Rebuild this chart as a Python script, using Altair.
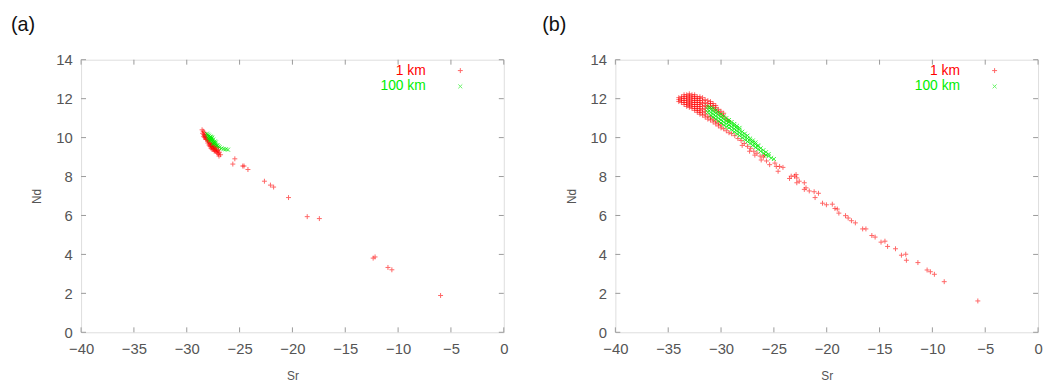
import altair as alt
import pandas as pd

# ---------------- data ----------------
x_ticks = [-40, -35, -30, -25, -20, -15, -10, -5, 0]
y_ticks = [0, 2, 4, 6, 8, 10, 12, 14]
series_names = ["1 km", "100 km"]
panel_labels = ["(a)", "(b)"]

# ---- panel (a), 1 km ----
a_red_x = [-28.55, -28.45, -28.5, -28.4, -28.35, -28.3, -28.25, -28.2, -28.15, -28.1,
           -28.05, -28.0, -27.95, -27.9, -27.85, -27.8, -27.75, -27.7, -27.65, -27.6,
           -27.55, -27.5, -27.45, -27.4, -27.35, -27.3, -27.25, -27.2, -27.15, -27.1,
           -27.8, -27.6, -28.2, -28.4, -27.4, -27.0, -26.9, -27.5, -27.3, -27.7,
           -26.8, -27.05, -28.3, -28.0, -27.9, -27.6, -27.45, -27.2, -27.0, -26.95,
           -25.45, -25.64, -24.70, -24.58, -24.21, -22.65, -22.08, -21.78, -20.37,
           -18.60, -17.45, -12.36, -12.18, -10.96, -10.59, -5.98]
a_red_y = [10.40, 10.33, 10.22, 10.15, 10.27, 10.10, 10.05, 10.16, 9.95, 10.0,
           9.90, 9.85, 9.80, 9.75, 9.86, 9.70, 9.60, 9.66, 9.55, 9.50,
           9.62, 9.45, 9.40, 9.52, 9.35, 9.46, 9.30, 9.36, 9.25, 9.20,
           9.55, 9.66, 9.90, 10.05, 9.30, 9.15, 9.25, 9.70, 9.56, 9.45,
           9.12, 9.32, 10.0, 9.72, 9.62, 9.40, 9.55, 9.48, 9.40, 9.05,
           8.91, 8.64, 8.54, 8.54, 8.36, 7.76, 7.56, 7.46, 6.92,
           5.94, 5.84, 3.81, 3.87, 3.33, 3.21, 1.89]

# ---- panel (a), 100 km ----
a_green_x = [-28.1, -28.0, -27.95, -27.9, -27.85, -27.8, -27.75, -27.7, -27.65, -27.6,
             -27.55, -27.5, -27.45, -27.4, -27.35, -27.3, -27.2, -27.1, -27.0, -26.9,
             -26.7, -26.5, -26.3, -26.1, -27.6, -27.8, -27.95, -27.7, -27.5, -27.25]
a_green_y = [10.20, 10.15, 10.05, 10.10, 10.0, 9.95, 10.05, 9.90, 9.95, 9.85,
             9.80, 9.90, 9.75, 9.70, 9.80, 9.65, 9.60, 9.60, 9.55, 9.50,
             9.45, 9.42, 9.40, 9.38, 10.0, 9.85, 9.95, 10.02, 9.68, 9.75]

# ---- panel (b), 1 km : dense cloud, column by column ----
b_red_cloud_x = [-34.0, -33.75, -33.5, -33.25, -33.0, -32.75, -32.5, -32.25, -32.0,
                 -31.75, -31.5, -31.25, -31.0, -30.75, -30.5, -30.25, -30.0, -29.75,
                 -29.5, -29.25]
b_red_cloud_y = [
    [11.85, 11.95, 12.05],
    [11.8, 11.9, 12.0, 12.1],
    [11.7, 11.8, 11.9, 12.0, 12.1, 12.2],
    [11.6, 11.7, 11.8, 11.9, 12.0, 12.1, 12.2],
    [11.55, 11.65, 11.75, 11.85, 11.95, 12.05, 12.15, 12.25],
    [11.5, 11.6, 11.7, 11.8, 11.9, 12.0, 12.1, 12.2],
    [11.4, 11.5, 11.6, 11.7, 11.8, 11.9, 12.0, 12.1, 12.2],
    [11.3, 11.4, 11.5, 11.6, 11.7, 11.8, 11.9, 12.0, 12.1],
    [11.2, 11.3, 11.4, 11.5, 11.6, 11.7, 11.8, 11.9, 12.0, 12.1],
    [11.15, 11.3, 11.45, 11.6, 11.75, 11.9, 12.05],
    [11.05, 11.2, 11.35, 11.5, 11.65, 11.8, 11.95],
    [10.95, 11.1, 11.6, 11.75, 11.9],
    [10.9, 11.05, 11.6, 11.75, 11.85],
    [10.8, 10.95, 11.5, 11.65, 11.75],
    [10.7, 10.85, 11.4, 11.55, 11.65],
    [10.6, 10.75, 11.3, 11.45],
    [10.5, 10.65, 11.2, 11.35],
    [10.45, 11.1, 11.25],
    [10.35, 10.95],
    [10.25, 10.85],
]
# ---- panel (b), 1 km : scattered points ----
b_red_x = [-29.0, -28.7, -28.4, -28.1, -27.8, -27.5, -27.2, -26.9, -26.6, -26.3, -26.0,
           -28.0, -27.3, -26.8, -26.2, -25.7, -25.9,
           -25.4, -24.9, -24.46, -24.77, -24.14, -24.6, -23.52, -23.05, -22.83, -22.83,
           -22.12, -22.12, -21.65, -21.19, -20.78, -21.1, -20.4, -20.03, -19.47, -19.22,
           -19.0, -18.85, -18.22, -17.97, -17.66, -17.29, -16.6, -16.29, -15.73, -15.42,
           -14.86, -14.49, -14.24, -13.49, -12.93, -12.52, -12.46, -11.37, -10.5, -10.19,
           -9.81, -8.88, -5.7, -23.36, -22.9, -22.6, -21.96]
b_red_y = [10.2, 10.1, 9.95, 9.85, 9.7, 9.55, 9.45, 9.3, 9.2, 9.05, 9.0,
           9.6, 9.3, 9.1, 8.85, 8.8, 9.1,
           8.61, 8.69, 8.52, 8.52, 8.47, 8.27, 7.90, 8.02, 7.93, 7.68,
           7.68, 7.34, 7.26, 7.22, 7.14, 6.92, 6.63, 6.55, 6.58, 6.36,
           6.33, 6.12, 5.99, 5.87, 5.73, 5.62, 5.31, 5.31, 4.97, 4.89,
           4.63, 4.68, 4.41, 4.29, 3.96, 4.01, 3.70, 3.58, 3.20, 3.11,
           2.98, 2.60, 1.61, 8.02, 8.10, 7.76, 7.42]

# ---- panel (b), 100 km : band, column by column ----
b_green_cloud_x = [-31.25, -31.0, -30.75, -30.5, -30.25, -30.0, -29.75, -29.5, -29.25,
                   -29.0, -28.75, -28.5, -28.25, -28.0, -27.75, -27.5, -27.25, -27.0,
                   -26.75, -26.5, -26.25, -26.0, -25.75, -25.5, -25.25, -25.0]
b_green_cloud_y = [
    [11.3, 11.45, 11.6],
    [11.15, 11.3, 11.45, 11.55],
    [11.05, 11.2, 11.35, 11.5],
    [10.95, 11.1, 11.25, 11.4],
    [10.85, 11.0, 11.15, 11.3],
    [10.75, 10.9, 11.05, 11.2],
    [10.65, 10.8, 10.95, 11.1],
    [10.55, 10.7, 10.85, 11.0],
    [10.5, 10.65, 10.8, 10.9],
    [10.4, 10.55, 10.7, 10.8],
    [10.3, 10.45, 10.6, 10.7],
    [10.2, 10.35, 10.5, 10.6],
    [10.1, 10.25, 10.4, 10.5],
    [10.0, 10.15, 10.3],
    [9.9, 10.05, 10.2],
    [9.8, 9.95, 10.1],
    [9.7, 9.85, 9.95],
    [9.6, 9.75, 9.85],
    [9.5, 9.65, 9.75],
    [9.4, 9.55, 9.6],
    [9.3, 9.45],
    [9.2, 9.35],
    [9.1, 9.25],
    [9.05, 9.15],
    [8.95],
    [8.9],
]

# ---------------- styling ----------------
W, H = 428, 276
FONT = "Liberation Sans"
GRAY = "#555555"
BORDER = "#999999"
RED = "#ff0000"
GREEN = "#00ee00"
PLUS = "M-1,0L1,0M0,-1L0,1"
TIMES = "M-0.8,-0.8L0.8,0.8M-0.8,0.8L0.8,-0.8"

xscale = alt.Scale(domain=[-40, 0], nice=False, zero=False)
yscale = alt.Scale(domain=[0, 14], nice=False)

axis_common = dict(ticks=False, domain=False, grid=False, labelPadding=9,
                   labelFontSize=15, labelColor=GRAY,
                   labelFont=FONT, titleFont=FONT, titleFontSize=12,
                   titleColor=GRAY, titleFontWeight="normal", labelFlush=False)
xaxis = alt.Axis(values=x_ticks, titlePadding=15, **axis_common)
yaxis = alt.Axis(values=y_ticks, titlePadding=12, **axis_common)


def expand(cx, cy):
    xs, ys = [], []
    for x, col in zip(cx, cy):
        for y in col:
            xs.append(x)
            ys.append(y)
    return xs, ys


def xenc(field):
    return alt.X(field, type="quantitative", scale=xscale, axis=xaxis, title="Sr")


def yenc(field):
    return alt.Y(field, type="quantitative", scale=yscale, axis=yaxis, title="Nd")


def panel(rx, ry, gx, gy, label, label_dx):
    red_df = pd.DataFrame({"Sr": rx, "Nd": ry})
    green_df = pd.DataFrame({"Sr": gx, "Nd": gy})

    red = alt.Chart(red_df).mark_point(
        shape=PLUS, filled=False, size=25, strokeWidth=1, color=RED, opacity=0.6
    ).encode(x=xenc("Sr"), y=yenc("Nd"))
    green = alt.Chart(green_df).mark_point(
        shape=TIMES, filled=False, size=25, strokeWidth=1, color=GREEN, opacity=0.8
    ).encode(x=xenc("Sr"), y=yenc("Nd"))

    xt = pd.DataFrame({"Sr": x_ticks})
    yt = pd.DataFrame({"Nd": y_ticks})
    xb = alt.Chart(xt).mark_rule(color=BORDER, strokeWidth=1).encode(
        x=xenc("Sr"), y=alt.value(H), y2=alt.value(H - 5))
    xtop = alt.Chart(xt).mark_rule(color=BORDER, strokeWidth=1).encode(
        x=xenc("Sr"), y=alt.value(0), y2=alt.value(5))
    yl = alt.Chart(yt).mark_rule(color=BORDER, strokeWidth=1).encode(
        y=yenc("Nd"), x=alt.value(0), x2=alt.value(5))
    yr = alt.Chart(yt).mark_rule(color=BORDER, strokeWidth=1).encode(
        y=yenc("Nd"), x=alt.value(W - 5), x2=alt.value(W))

    leg_df1 = pd.DataFrame({"t": [series_names[0]]})
    leg_df2 = pd.DataFrame({"t": [series_names[1]]})
    t1 = alt.Chart(leg_df1).mark_text(
        align="right", baseline="middle", font=FONT, fontSize=14, color=RED
    ).encode(text="t:N", x=alt.value(W - 79), y=alt.value(11))
    t2 = alt.Chart(leg_df2).mark_text(
        align="right", baseline="middle", font=FONT, fontSize=14, color=GREEN
    ).encode(text="t:N", x=alt.value(W - 79), y=alt.value(27))
    s1 = alt.Chart(leg_df1).mark_point(
        shape=PLUS, filled=False, size=25, strokeWidth=1, color=RED, opacity=0.6
    ).encode(x=alt.value(W - 44), y=alt.value(11))
    s2 = alt.Chart(leg_df2).mark_point(
        shape=TIMES, filled=False, size=25, strokeWidth=1, color=GREEN, opacity=0.6
    ).encode(x=alt.value(W - 44), y=alt.value(27))

    lab = alt.Chart(pd.DataFrame({"t": [label]})).mark_text(
        align="left", baseline="middle", font=FONT, fontSize=20, color="#111111"
    ).encode(text="t:N", x=alt.value(label_dx), y=alt.value(-35))

    return alt.layer(red, green, xb, xtop, yl, yr, t1, t2, s1, s2, lab).properties(
        width=W, height=H)


brc_x, brc_y = expand(b_red_cloud_x, b_red_cloud_y)
bgc_x, bgc_y = expand(b_green_cloud_x, b_green_cloud_y)

pa = panel(a_red_x, a_red_y, a_green_x, a_green_y, panel_labels[0], -71)
pb = panel(brc_x + b_red_x, brc_y + b_red_y, bgc_x, bgc_y, panel_labels[1], -74)

chart = alt.hconcat(pa, pb, spacing=33).properties(
    padding={"left": 2, "top": 4, "right": 0, "bottom": 0}
).configure_view(stroke=BORDER, strokeWidth=1).configure(background="white")

chart.save("out.html", embed_options={"renderer": "svg", "actions": False})
